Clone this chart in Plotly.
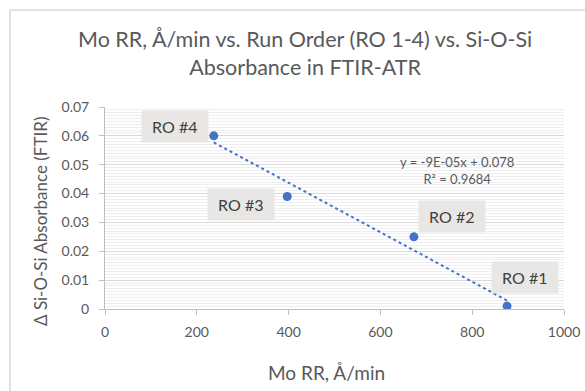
import numpy as np
import plotly.graph_objects as go

# Mo removal rate (Å/min) and change in Si-O-Si absorbance for each run
mo_rr = [237, 397, 673, 876]
si_o_si = [0.060, 0.039, 0.025, 0.001]
run_labels = ["RO #4", "RO #3", "RO #2", "RO #1"]
# offsets of each label box centre from its point (pixels)
label_dx = [-39, -46, 38, 18]
label_dy = [-9, 8, -20, -29]

# trendline equation as reported
trend_slope_text = "-9E-05"
trend_intercept_text = "0.078"
trend_r2 = 0.9684

x_ticks = [0, 200, 400, 600, 800, 1000]
y_ticks = [0, 0.01, 0.02, 0.03, 0.04, 0.05, 0.06, 0.07]

W, H = 585, 391
ml, mr, mt, mb = 105, 21, 107, 82
pw, ph = W - ml - mr, H - mt - mb


def px_x(p):
    return (p - ml) / pw


def px_y(p):
    return (H - mb - p) / ph


# least-squares trendline over the measured range
slope, intercept = np.polyfit(mo_rr, si_o_si, 1)
x_fit = [min(mo_rr), max(mo_rr)]
y_fit = [slope * v + intercept for v in x_fit]

gray = "#595959"
font = "Lato"
blue = "#4472C4"

fig = go.Figure()
fig.add_trace(go.Scatter(
    x=x_fit, y=y_fit, mode="lines",
    line=dict(color=blue, width=2, dash="dot"),
    hoverinfo="skip", showlegend=False,
))
fig.add_trace(go.Scatter(
    x=mo_rr, y=si_o_si, mode="markers",
    marker=dict(color=blue, size=9),
    showlegend=False,
))

for x, y, t, dx, dy in zip(mo_rr, si_o_si, run_labels, label_dx, label_dy):
    fig.add_annotation(
        x=x, y=y, text="\u00a0" + t + "\u00a0", showarrow=True,
        arrowcolor="rgba(0,0,0,0)", ax=dx, ay=dy,
        bgcolor="#E9E7E5", borderpad=6,
        font=dict(family=font, size=16, color="#404040"),
    )

fig.add_annotation(
    x=px_x(457), y=px_y(170), xref="paper", yref="paper", showarrow=False,
    xanchor="center", yanchor="middle",
    text=f"y = {trend_slope_text}x + {trend_intercept_text}<br>R² = {trend_r2:.4f}",
    font=dict(family=font, size=13, color=gray), align="center",
)

# chart title
fig.add_annotation(
    x=px_x(305), y=px_y(53), xref="paper", yref="paper", showarrow=False,
    xanchor="center", yanchor="middle",
    text="Mo RR, Å/min vs. Run Order (RO 1-4) vs. Si-O-Si<br>Absorbance in FTIR-ATR",
    font=dict(family=font, size=21.5, color=gray), align="center",
)
# axis titles
fig.add_annotation(
    x=px_x(326), y=px_y(372), xref="paper", yref="paper", showarrow=False,
    xanchor="center", yanchor="middle", text="Mo RR, Å/min",
    font=dict(family=font, size=19, color=gray),
)
fig.add_annotation(
    x=px_x(40), y=px_y(222), xref="paper", yref="paper", showarrow=False,
    xanchor="center", yanchor="middle", textangle=-90,
    text="Δ Si-O-Si Absorbance (FTIR)",
    font=dict(family=font, size=17, color=gray),
)

fig.update_layout(
    width=W, height=H,
    margin=dict(l=ml, r=mr, t=mt, b=mb),
    paper_bgcolor="white", plot_bgcolor="white",
    shapes=[
        dict(type="line", xref="paper", yref="paper",
             x0=px_x(10), x1=px_x(W + 5), y0=px_y(10), y1=px_y(10),
             line=dict(color="#D9D9D9", width=1.5)),
        dict(type="line", xref="paper", yref="paper",
             x0=px_x(10), x1=px_x(10), y0=px_y(10), y1=px_y(H + 5),
             line=dict(color="#D9D9D9", width=1.5)),
    ],
)

fig.update_xaxes(
    range=[0, 1000], tickvals=x_ticks, ticktext=[str(v) for v in x_ticks],
    automargin=False,
    showgrid=False, zeroline=False,
    showline=True, linecolor="#BFBFBF", linewidth=1,
    ticks="outside", ticklen=5, tickcolor="#BFBFBF",
    ticklabelstandoff=5,
    tickfont=dict(family=font, size=14, color=gray),
)
fig.update_yaxes(
    range=[0, 0.07], tickvals=y_ticks, ticktext=[f"{v:g}" for v in y_ticks],
    automargin=False,
    showgrid=True, gridcolor="#D9D9D9", gridwidth=1,
    minor=dict(dtick=0.001, showgrid=True, gridcolor="#EEEEEE", gridwidth=1),
    zeroline=False,
    showline=True, linecolor="#BFBFBF", linewidth=1,
    ticks="outside", ticklen=5, tickcolor="#BFBFBF",
    ticklabelstandoff=7,
    tickfont=dict(family=font, size=14, color=gray),
)

fig.write_html("out.html")
